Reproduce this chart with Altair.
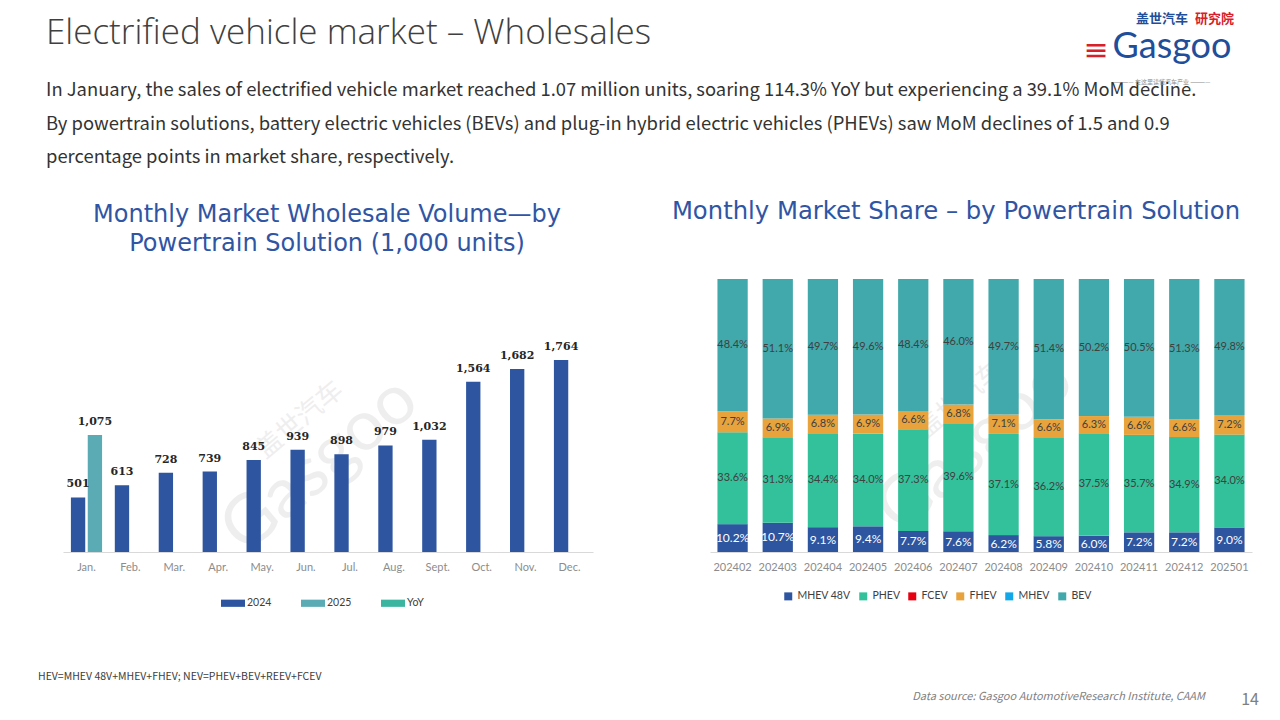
import altair as alt
import pandas as pd

# ---------------- data ----------------
MONTHS = ["Jan.", "Feb.", "Mar.", "Apr.", "May.", "Jun.", "Jul.", "Aug.", "Sept.", "Oct.", "Nov.", "Dec."]
VOL_2024 = [501, 613, 728, 739, 845, 939, 898, 979, 1032, 1564, 1682, 1764]
VOL_2025 = [1075, None, None, None, None, None, None, None, None, None, None, None]
YEARS = ["2024", "2025", "YoY"]
YEAR_COLORS = ["#2E55A0", "#5AABB3", "#3CB5A0"]

PERIODS = ["202402", "202403", "202404", "202405", "202406", "202407",
           "202408", "202409", "202410", "202411", "202412", "202501"]
SERIES = ["MHEV 48V", "PHEV", "FCEV", "FHEV", "MHEV", "BEV"]
SERIES_COLORS = ["#2E55A0", "#33C19B", "#E60012", "#E8A33C", "#12A7E8", "#41A8AB"]
MHEV48 = [10.2, 10.7, 9.1, 9.4, 7.7, 7.6, 6.2, 5.8, 6.0, 7.2, 7.2, 9.0]
PHEV = [33.6, 31.3, 34.4, 34.0, 37.3, 39.6, 37.1, 36.2, 37.5, 35.7, 34.9, 34.0]
FCEV = [0, 0, 0, 0, 0, 0, 0, 0, 0, 0, 0, 0]
FHEV = [7.7, 6.9, 6.8, 6.9, 6.6, 6.8, 7.1, 6.6, 6.3, 6.6, 6.6, 7.2]
MHEV = [0, 0, 0, 0, 0, 0, 0, 0, 0, 0, 0, 0]
BEV = [48.4, 51.1, 49.7, 49.6, 48.4, 46.0, 49.7, 51.4, 50.2, 50.5, 51.3, 49.8]

TITLE = "Electrified vehicle market \u2013 Wholesales"
SUBTITLE = ("In January, the sales of electrified vehicle market reached 1.07 million units, soaring 114.3% YoY but experiencing a 39.1% MoM decline.\n"
            "By powertrain solutions, battery electric vehicles (BEVs) and plug-in hybrid electric vehicles (PHEVs) saw MoM declines of 1.5 and 0.9\n"
            "percentage points in market share, respectively.")
LEFT_TITLE = "Monthly Market Wholesale Volume\u2014by\nPowertrain  Solution (1,000 units)"
RIGHT_TITLE = "Monthly Market Share \u2013 by Powertrain Solution"
FOOTNOTE = "HEV=MHEV 48V+MHEV+FHEV; NEV=PHEV+BEV+REEV+FCEV"
SOURCE = "Data source: Gasgoo AutomotiveResearch Institute, CAAM"
PAGE = "14"
LOGO_CN_BLUE = "\u76d6\u4e16\u6c7d\u8f66"
LOGO_CN_RED = "\u7814\u7a76\u9662"
LOGO_EN = "Gasgoo"
LOGO_STRIPES = "\u2261"
LOGO_TAG = "\u2014\u2014\u2014\u2014  \u5728\u8fd9\u91cc\u8bfb\u61c2\u6c7d\u8f66\u4ea7\u4e1a  \u2014\u2014\u2014\u2014"
WATERMARK_CN = "\u76d6\u4e16\u6c7d\u8f66"

BODY_FONT = "Noto Sans CJK SC"
TITLE_BLUE = "#2F55A4"


def txt(s, x, y, size, color="#404040", font=BODY_FONT, weight="normal", align="left",
        baseline="middle", style=None, angle=None, opacity=None, line_height=None):
    kw = dict(fontSize=size, color=color, font=font, fontWeight=weight, align=align, baseline=baseline)
    if style:
        kw["fontStyle"] = style
    if angle is not None:
        kw["angle"] = angle
    if opacity is not None:
        kw["opacity"] = opacity
    if line_height:
        kw["lineHeight"] = line_height
        kw["lineBreak"] = "\n"
    return alt.Chart(pd.DataFrame({"t": [s]})).mark_text(**kw).encode(
        x=alt.value(x), y=alt.value(y), text="t:N")


# ---------------- left chart: volumes ----------------
rows = []
for m, a, b in zip(MONTHS, VOL_2024, VOL_2025):
    rows.append({"month": m, "year": "2024", "value": a})
    if b is not None:
        rows.append({"month": m, "year": "2025", "value": b})
vol_df = pd.DataFrame(rows)

xL = alt.X("month:N", sort=MONTHS,
           scale=alt.Scale(range=[63, 593], paddingInner=0.29, paddingOuter=0.18),
           axis=alt.Axis(title=None, orient="bottom", labelAngle=0, offset=-168, domainColor="#d9d9d9",
                         ticks=False, labelColor="#8c8c8c", labelFontSize=11, labelFont="Lato",
                         labelPadding=9, grid=False))
xoL = alt.XOffset("year:N", scale=alt.Scale(domain=["2024", "2025"], paddingInner=0.15))
yL = alt.Y("value:Q", scale=alt.Scale(domain=[0, 2500], range=[552, 280]), axis=None)

baseL = alt.Chart(vol_df)
barsL = baseL.mark_bar().encode(
    x=xL, xOffset=xoL, y=yL,
    color=alt.Color("year:N", scale=alt.Scale(domain=YEARS, range=YEAR_COLORS),
                    legend=alt.Legend(title=None, orient="none", legendX=221, legendY=591, direction="horizontal",
                                      symbolType="M-1,-0.3H1V0.3H-1Z", symbolSize=576, symbolStrokeWidth=0,
                                      labelFontSize=10.5, labelFont="Lato", labelColor="#404040",
                                      labelOffset=2, columnPadding=29)))
labelsL = baseL.mark_text(dy=-8, baseline="bottom", fontWeight="bold", fontSize=11,
                          font="DejaVu Serif", color="#262626").encode(
    x=xL, xOffset=xoL, y=yL, text=alt.Text("value:Q", format=","))
left = alt.layer(barsL, labelsL)

# ---------------- right chart: shares ----------------
vals = {"MHEV 48V": MHEV48, "PHEV": PHEV, "FCEV": FCEV, "FHEV": FHEV, "MHEV": MHEV, "BEV": BEV}
srows = []
for i, p in enumerate(PERIODS):
    for k, s in enumerate(SERIES):
        srows.append({"period": p, "series": s, "value": vals[s][i], "order": k})
share_df = pd.DataFrame(srows)

xR = alt.X("period:N", sort=PERIODS,
           scale=alt.Scale(range=[710, 1252], paddingInner=0.33, paddingOuter=0.165),
           axis=alt.Axis(title=None, orient="bottom", labelAngle=0, offset=-168, domainColor="#d9d9d9",
                         ticks=False, labelColor="#8c8c8c", labelFontSize=11, labelFont="Lato",
                         labelPadding=9, grid=False))
baseR = alt.Chart(share_df).transform_stack(
    stack="value", groupby=["period"], as_=["y0", "y1"], offset="normalize",
    sort=[alt.SortField("order", order="ascending")]
).transform_calculate(mid="(datum.y0 + datum.y1) / 2",
                      lbl="format(datum.value, '.1f') + '%'")

barsR = baseR.mark_bar().encode(
    x=xR,
    y=alt.Y("y0:Q", scale=alt.Scale(domain=[0, 1], range=[552, 279]), axis=None),
    y2="y1:Q",
    color=alt.Color("series:N", scale=alt.Scale(domain=SERIES, range=SERIES_COLORS),
                    legend=alt.Legend(title=None, orient="none", legendX=783, legendY=591, direction="horizontal",
                                      symbolType="square", symbolSize=64, symbolStrokeWidth=0,
                                      labelFontSize=10.5, labelFont="Lato", labelColor="#404040",
                                      labelOffset=4, columnPadding=7)))
labelsR = baseR.transform_filter("datum.value > 0").mark_text(font="Lato").encode(
    x=xR,
    y=alt.Y("mid:Q"),
    text="lbl:N",
    size=alt.condition("datum.series == 'MHEV 48V'", alt.value(12), alt.value(11)),
    color=alt.condition("datum.series == 'MHEV 48V'", alt.value("white"), alt.value("#404040")))
right = alt.layer(barsR, labelsR)

# ---------------- decorative text ----------------
wm = [
    txt(WATERMARK_CN, 300, 420, 26, color="#c8c8c8", angle=320, opacity=0.3, align="center"),
    txt(LOGO_EN, 320, 465, 70, color="#c8c8c8", font="Lato", angle=320, opacity=0.3, align="center"),
    txt(WATERMARK_CN, 960, 400, 26, color="#c8c8c8", angle=320, opacity=0.3, align="center"),
    txt(LOGO_EN, 975, 445, 70, color="#c8c8c8", font="Lato", angle=320, opacity=0.3, align="center"),
]

texts = [
    txt(TITLE, 46, 33, 35, color="#404040", font="Open Sans", weight=300),
    txt(SUBTITLE, 46, 90, 18.4, color="#333333", line_height=33.5),
    txt(LEFT_TITLE, 327, 215, 24, color=TITLE_BLUE, font="DejaVu Sans", align="center", line_height=29),
    txt(RIGHT_TITLE, 956, 212, 24.3, color=TITLE_BLUE, font="DejaVu Sans", align="center"),
    txt(FOOTNOTE, 38, 677, 10.5, color="#404040"),
    txt(SOURCE, 1205, 697, 11, color="#7f7f7f", style="italic", align="right"),
    txt(PAGE, 1250, 700, 16, color="#808080", align="center"),
    txt(LOGO_CN_BLUE, 1136, 19, 13, color="#1F4E9A", weight="bold"),
    txt(LOGO_CN_RED, 1195, 19, 13, color="#D7202A", weight="bold"),
    txt(LOGO_STRIPES, 1096, 51, 30, color="#D7202A", font="DejaVu Sans", align="center"),
    txt(LOGO_EN, 1172, 58, 36, color="#1F4E9A", font="Lato", align="center", baseline="alphabetic"),
    txt(LOGO_TAG, 1162, 82, 6, color="#8c8c8c", align="center"),
]

chart = alt.layer(*wm, left, right, *texts).resolve_scale(
    x="independent", y="independent", color="independent", size="independent"
).properties(
    width=1280, height=720, padding=0, background="white",
    autosize=alt.AutoSizeParams(type="none")
).configure_view(stroke=None)

chart.save("out.html", embed_options={"renderer": "svg", "actions": False})
